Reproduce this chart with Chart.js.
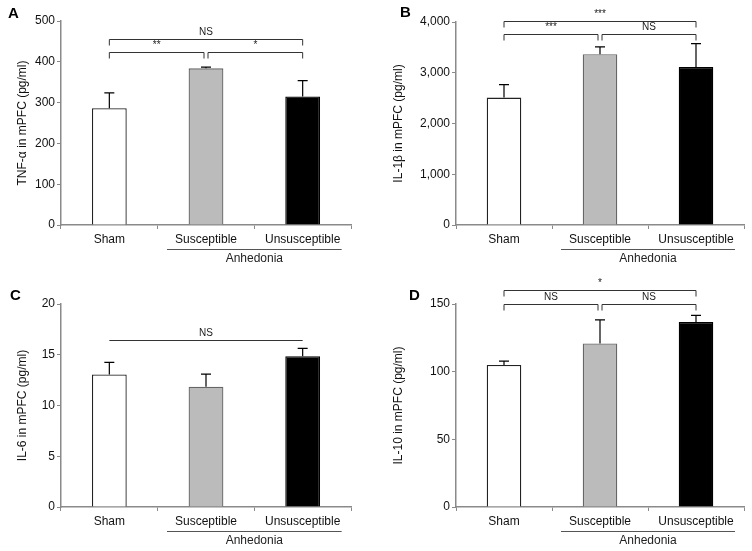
<!DOCTYPE html>
<html>
<head>
<meta charset="utf-8">
<script src="https://cdn.jsdelivr.net/npm/chart.js@4.4.1/dist/chart.umd.min.js"></script>
<style>
  html, body { margin: 0; padding: 0; background: #fff; }
  #wrap { position: relative; width: 752px; height: 551px; }
  canvas { position: absolute; }
</style>
</head>
<body>
<div id="wrap">
  <canvas id="chartA" width="376" height="275" style="left:0;top:0"></canvas>
  <canvas id="chartB" width="376" height="275" style="left:376px;top:0"></canvas>
  <canvas id="chartC" width="376" height="276" style="left:0;top:275px"></canvas>
  <canvas id="chartD" width="376" height="276" style="left:376px;top:275px"></canvas>
</div>
<script>
// groups shared by all four panels
const categories = ["Sham", "Susceptible", "Unsusceptible"];
const groupLabel = "Anhedonia";

// A: TNF-alpha
const tnfValues = [286, 384, 315];
const tnfSem = [38, 3, 39];
const tnfTicks = [0, 100, 200, 300, 400, 500];
const tnfBrackets = [[0, 1, 425, "**"], [1, 2, 425, "*"], [0, 2, 456, "NS"]];

// B: IL-1beta
const il1Values = [2510, 3365, 3115];
const il1Sem = [255, 145, 460];
const il1Ticks = [0, 1000, 2000, 3000, 4000];
const il1Brackets = [[0, 1, 3772, "***"], [1, 2, 3772, "NS"], [0, 2, 4014, "***"]];

// C: IL-6
const il6Values = [13.05, 11.85, 14.85];
const il6Sem = [1.2, 1.25, 0.78];
const il6Ticks = [0, 5, 10, 15, 20];
const il6Brackets = [[0, 2, 16.45, "NS"]];

// D: IL-10
const il10Values = [104.9, 120.9, 136.7];
const il10Sem = [2.9, 17.3, 4.9];
const il10Ticks = [0, 50, 100, 150];
const il10Brackets = [[0, 1, 150, "NS"], [1, 2, 150, "NS"], [0, 2, 160.4, "*"]];

const FONT = "'Liberation Sans', Arial, sans-serif";
const AXIS = "#8a8a8a";

function makePanel(id, p) {
  // draws error bars, significance brackets, group line and panel letter
  const extras = {
    id: "extras_" + id,
    afterDatasetsDraw(chart) {
      const ctx = chart.ctx;
      const x = chart.scales.x, y = chart.scales.y;
      const meta = chart.getDatasetMeta(0);
      ctx.save();
      ctx.strokeStyle = "#000";
      ctx.lineWidth = 1.2;
      // error bars (upper only)
      p.values.forEach(function (v, i) {
        const cx = meta.data[i].x;
        const y0 = y.getPixelForValue(v);
        const y1 = y.getPixelForValue(v + p.sem[i]);
        ctx.beginPath();
        ctx.moveTo(cx, y0);
        ctx.lineTo(cx, y1);
        ctx.moveTo(cx - 5, y1);
        ctx.lineTo(cx + 5, y1);
        ctx.stroke();
      });
      // brackets
      ctx.lineWidth = 1;
      ctx.strokeStyle = "#333";
      ctx.fillStyle = "#222";
      ctx.font = "10px " + FONT;
      ctx.textAlign = "center";
      ctx.textBaseline = "bottom";
      p.brackets.forEach(function (b) {
        let x1 = x.getPixelForValue(b[0]);
        let x2 = x.getPixelForValue(b[1]);
        if (b[1] - b[0] === 1) {
          if (b[0] === 1) x1 += 2;
          if (b[1] === 1) x2 -= 2;
        }
        const yy = Math.round(y.getPixelForValue(b[2])) + 0.5;
        ctx.beginPath();
        ctx.moveTo(x1, yy + p.tick);
        ctx.lineTo(x1, yy);
        ctx.lineTo(x2, yy);
        ctx.lineTo(x2, yy + p.tick);
        ctx.stroke();
        ctx.fillText(b[3], (x1 + x2) / 2, yy - 2);
      });
      // group line + label under the two anhedonia groups
      const gy = Math.round(y.bottom + 24) + 0.5;
      ctx.strokeStyle = "#555";
      ctx.beginPath();
      ctx.moveTo(x.getPixelForValue(1) - 39, gy);
      ctx.lineTo(x.getPixelForValue(2) + 39, gy);
      ctx.stroke();
      ctx.font = "12px " + FONT;
      ctx.textBaseline = "middle";
      ctx.fillText(groupLabel, (x.getPixelForValue(1) + x.getPixelForValue(2)) / 2, y.bottom + 34);
      // panel letter
      ctx.font = "bold 15px " + FONT;
      ctx.textAlign = "left";
      ctx.textBaseline = "alphabetic";
      ctx.fillStyle = "#000";
      ctx.fillText(p.letter, p.letterX, p.letterY);
      ctx.restore();
    }
  };

  const canvas = document.getElementById(id);
  new Chart(canvas, {
    type: "bar",
    data: {
      labels: categories,
      datasets: [{
        data: p.values,
        backgroundColor: ["#ffffff", "#bbbbbb", "#000000"],
        borderColor: ["#222222", "#666666", "#000000"],
        borderWidth: 1.3,
        barPercentage: 0.36,
        categoryPercentage: 1
      }]
    },
    options: {
      responsive: false,
      animation: false,
      devicePixelRatio: 1,
      layout: { padding: { left: 10, right: canvas.width - p.right, top: p.top, bottom: 0 } },
      plugins: { legend: { display: false }, tooltip: { enabled: false } },
      scales: {
        x: {
          afterFit: function (s) { s.height = canvas.height - p.bottom; },
          border: { color: AXIS, width: 1.5 },
          grid: { offset: true, drawOnChartArea: false, drawTicks: true, tickLength: 4, color: AXIS },
          ticks: { color: "#111", font: { family: FONT, size: 12 }, padding: 3 }
        },
        y: {
          min: 0,
          max: p.ticks[p.ticks.length - 1],
          afterFit: function (s) { s.width = p.left - 10; },
          afterBuildTicks: function (s) { s.ticks = p.ticks.map(function (v) { return { value: v }; }); },
          border: { color: AXIS, width: 1.5 },
          grid: { drawOnChartArea: false, drawTicks: true, tickLength: 4, color: AXIS },
          ticks: {
            color: "#111",
            font: { family: FONT, size: 12 },
            padding: 2,
            callback: function (v) { return v.toLocaleString("en-US"); }
          },
          title: { display: true, text: p.title, color: "#111", font: { family: FONT, size: 12 }, padding: { top: 5, bottom: 4 } }
        }
      }
    },
    plugins: [extras]
  });
}

makePanel("chartA", {
  values: tnfValues, sem: tnfSem, ticks: tnfTicks, brackets: tnfBrackets, tick: 6,
  title: "TNF-\u03b1 in mPFC (pg/ml)", letter: "A", letterX: 8, letterY: 18,
  left: 61, right: 351, top: 21, bottom: 225
});
makePanel("chartB", {
  values: il1Values, sem: il1Sem, ticks: il1Ticks, brackets: il1Brackets, tick: 6,
  title: "IL-1\u03b2 in mPFC (pg/ml)", letter: "B", letterX: 24, letterY: 17,
  left: 80, right: 368, top: 22, bottom: 225
});
makePanel("chartC", {
  values: il6Values, sem: il6Sem, ticks: il6Ticks, brackets: il6Brackets, tick: 0,
  title: "IL-6 in mPFC (pg/ml)", letter: "C", letterX: 10, letterY: 25,
  left: 61, right: 351, top: 29, bottom: 232
});
makePanel("chartD", {
  values: il10Values, sem: il10Sem, ticks: il10Ticks, brackets: il10Brackets, tick: 6,
  title: "IL-10 in mPFC (pg/ml)", letter: "D", letterX: 33, letterY: 25,
  left: 80, right: 368, top: 29, bottom: 232
});
</script>
</body>
</html>
